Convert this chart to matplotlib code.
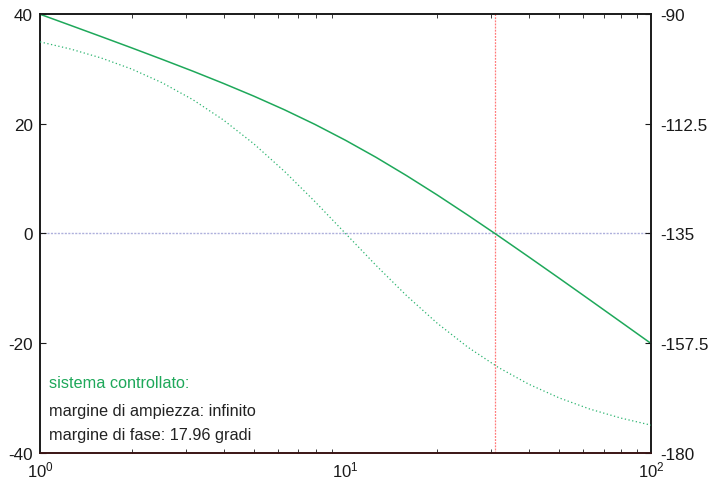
import matplotlib
matplotlib.use("Agg")
import matplotlib.pyplot as plt
from matplotlib.ticker import LogLocator, FixedLocator

plt.rcParams['font.family'] = ['Liberation Sans', 'DejaVu Sans']

freq = [1.0, 1.259, 1.585, 1.995, 2.512, 3.162, 3.981, 5.012, 6.310, 7.943,
        10.0, 12.59, 15.85, 19.95, 25.12, 31.62, 39.81, 50.12, 63.10, 79.43, 100.0]
mag_db = [39.96, 37.93, 35.89, 33.83, 31.73, 29.59, 27.36, 25.03, 22.55, 19.88,
          16.99, 13.88, 10.54, 7.03, 3.36, -0.41, -4.27, -8.17, -12.11, -16.07, -20.04]
phase_deg = [-95.71, -97.18, -99.01, -101.28, -104.10, -107.55, -111.71, -116.62, -122.25, -128.46,
             -135.0, -141.54, -147.75, -153.38, -158.29, -162.45, -165.90, -168.72, -171.00, -172.82, -174.29]
crossover = 30.84
left_ticks = [-40, -20, 0, 20, 40]
right_ticks = [-180, -157.5, -135, -112.5, -90]
right_labels = ['-180', '-157.5', '-135', '-112.5', '-90']
texts = ['sistema controllato:', 'margine di ampiezza: infinito', 'margine di fase: 17.96 gradi']

fig = plt.figure(figsize=(7.11, 4.89), dpi=100)
ax = fig.add_axes([0.0563, 0.0716, 0.8593, 0.8977])
ax.set_xscale('log')
ax.set_xlim(1, 100)
ax.set_ylim(-40, 40)

ax.axhline(0, color='#aeb0dc', lw=1.0, ls=(0, (1.5, 1)), zorder=1)
ax.axvline(crossover, color='#ff7a7a', lw=0.9, ls=(0, (1.5, 1)), zorder=1)
ax.plot(freq, mag_db, color='#1ea85a', lw=1.1, zorder=3)

ax2 = ax.twinx()
ax2.set_ylim(-180, -90)
ax2.plot(freq, phase_deg, color='#2cb470', lw=0.9, ls=(0, (1, 2)), zorder=3)

ax.set_yticks(left_ticks)
ax.set_yticklabels([str(v) for v in left_ticks])
ax2.yaxis.set_major_locator(FixedLocator(right_ticks))
ax2.set_yticklabels(right_labels)

ax.xaxis.set_major_locator(LogLocator(base=10, numticks=5))
ax.xaxis.set_minor_locator(LogLocator(base=10, subs=range(2, 10), numticks=20))

for a in (ax, ax2):
    for s in a.spines.values():
        s.set_color('#1a1a1a')
        s.set_linewidth(1.2)
ax.spines['bottom'].set_color('#3a1414')
ax2.spines['bottom'].set_color('#3a1414')

ax.tick_params(axis='x', which='both', direction='in', top=True, bottom=True,
               labelsize=12, pad=5, colors='#1a1a1a')
ax.tick_params(axis='x', which='major', length=0)
ax.tick_params(axis='x', which='minor', length=3, width=0.6)
ax.tick_params(axis='y', direction='in', length=4, width=0.8, labelsize=12.3, pad=5, colors='#1a1a1a')
ax2.tick_params(axis='y', direction='in', length=4, width=0.8, labelsize=12.3, pad=7, colors='#1a1a1a')

ax.text(0.014, 0.151, texts[0], transform=ax.transAxes, color='#1ea85a', fontsize=11.7)
ax.text(0.014, 0.087, texts[1], transform=ax.transAxes, color='#222222', fontsize=11.7)
ax.text(0.014, 0.031, texts[2], transform=ax.transAxes, color='#222222', fontsize=11.7)

fig.savefig('out.png', dpi=100)
